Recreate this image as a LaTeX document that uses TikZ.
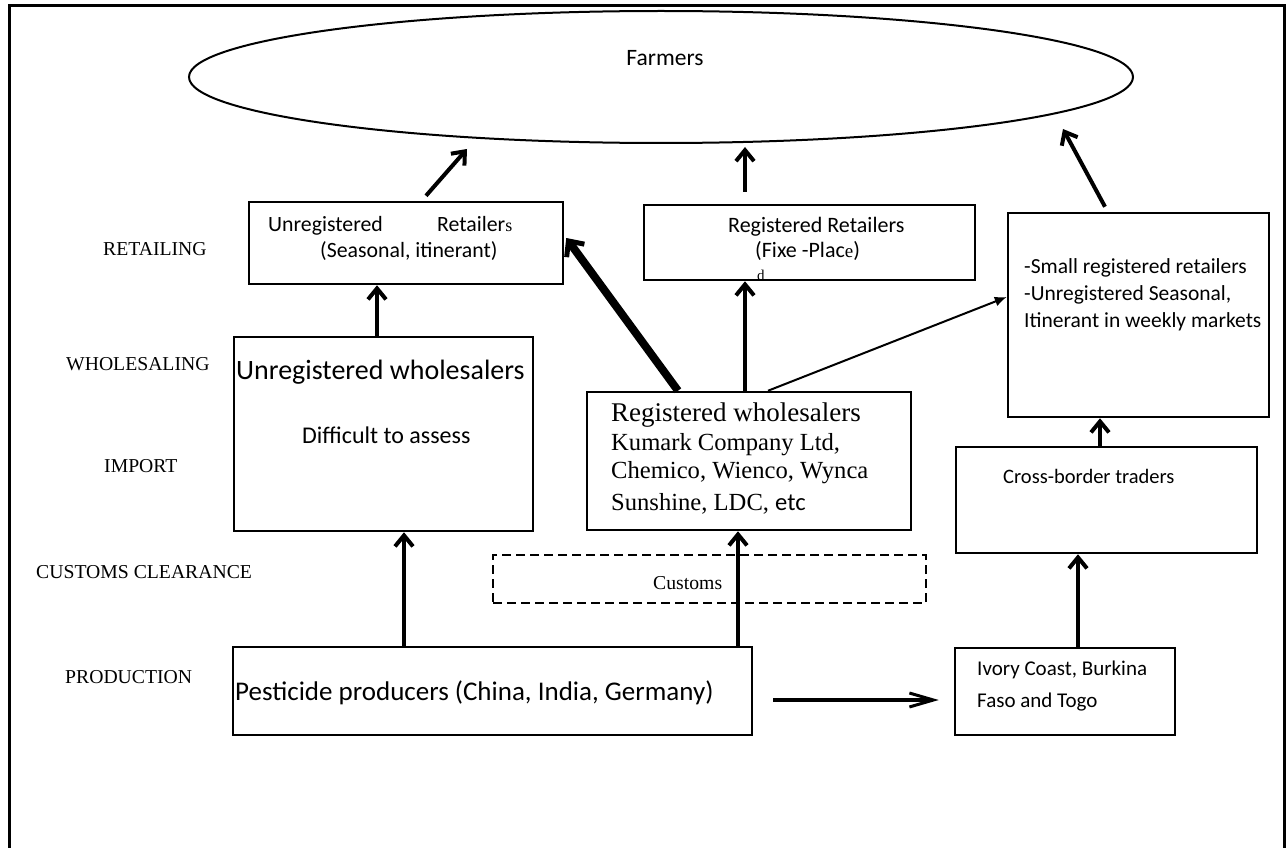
\documentclass[tikz,border=0pt]{standalone}
\usepackage{fontspec}
\setmainfont{Liberation Serif}
\newfontfamily\calfont{Carlito}
\usetikzlibrary{arrows.meta,shapes.geometric}
\begin{document}
\begin{tikzpicture}[x=1pt,y=-1pt,
  box/.style={draw,line width=2.5pt,inner sep=0pt,rectangle},
  txt/.style={inner sep=0pt,anchor=base west},
  lbl/.style={inner sep=0pt,anchor=base west,font=\fontsize{19.7}{22}\selectfont},
  arr/.style={line width=4pt,-{Straight Barb[length=11pt,width=18pt,line width=4pt]}},
  fatarr/.style={line width=8pt,-{Straight Barb[length=12pt,width=22pt,line width=5pt]}},
  thinarr/.style={line width=2pt,-{Latex[length=12pt,width=10pt]}}]
\useasboundingbox (0,0) rectangle (1286,848);
% frame
\draw[line width=3pt] (9,848) -- (9,6) -- (1284,6) -- (1284,848);
% farmers
\node[draw,ellipse,line width=2pt,minimum width=944,minimum height=132,inner sep=0pt] (farmers) at (661,77) {};
\node[inner sep=0pt,anchor=base,font=\calfont\fontsize{23.5}{26}\selectfont] (farmerst) at (665,66) {Farmers};
% boxes
\node[box,minimum width=314,minimum height=82] (ur) at (406,243) {};
\node[box,minimum width=331,minimum height=75] (rr) at (809.5,242.5) {};
\node[box,minimum width=261,minimum height=204] (sr) at (1138.5,315) {};
\node[box,minimum width=299,minimum height=194] (uw) at (383.5,434) {};
\node[box,minimum width=324,minimum height=138] (rw) at (749,461) {};
\node[box,dashed,dash pattern=on 9pt off 5pt,minimum width=433,minimum height=48] (cu) at (709.5,579) {};
\node[box,minimum width=301,minimum height=106] (cb) at (1106.5,500) {};
\node[box,minimum width=519,minimum height=88] (pp) at (492.5,691) {};
\node[box,minimum width=220,minimum height=87] (ic) at (1065,691.5) {};
% left labels
\node[lbl] (l1) at (103,255) {RETAILING};
\node[lbl] (l2) at (66,370) {WHOLESALING};
\node[lbl] (l3) at (104,472) {IMPORT};
\node[lbl] (l4) at (36,578) {CUSTOMS CLEARANCE};
\node[lbl] (l5) at (65,683) {PRODUCTION};
% texts
\node[txt,font=\calfont\fontsize{21.8}{24}\selectfont] (t1) at (268,231) {Unregistered};
\node[txt] (t2) at (437,231) {{\calfont\fontsize{21.8}{24}\selectfont Retailer}{\fontsize{18}{20}\selectfont s}};
\node[txt,font=\calfont\fontsize{21.8}{24}\selectfont] (t3) at (320,257) {(Seasonal, itinerant)};
\node[txt,font=\calfont\fontsize{22}{24}\selectfont] (t4) at (728,233) {Registered Retailers};
\node[txt] (t5) at (755,258) {{\calfont\fontsize{22}{24}\selectfont (Fixe -Plac}{\fontsize{19}{20}\selectfont e}{\calfont\fontsize{22}{24}\selectfont )}};
\node[txt,font=\fontsize{15}{16}\selectfont] (t6) at (757,280) {d};
\node[txt,font=\calfont\fontsize{21.5}{24}\selectfont] (t7) at (1024,273) {-Small registered retailers};
\node[txt,font=\calfont\fontsize{21.5}{24}\selectfont] (t8) at (1024,300) {-Unregistered Seasonal,};
\node[txt,font=\calfont\fontsize{21.5}{24}\selectfont] (t9) at (1024,327) {Itinerant in weekly markets};
\node[txt,font=\calfont\fontsize{28}{30}\selectfont] (t10) at (236,379) {Unregistered wholesalers};
\node[txt,font=\calfont\fontsize{24}{26}\selectfont] (t11) at (302,443) {Difficult to assess};
\node[txt,font=\fontsize{27}{30}\selectfont] (t12) at (611,421) {Registered wholesalers};
\node[txt,font=\fontsize{24.6}{26}\selectfont] (t13) at (611,450) {Kumark Company Ltd,};
\node[txt,font=\fontsize{24.6}{26}\selectfont] (t14) at (611,478) {Chemico, Wienco, Wynca};
\node[txt,font=\fontsize{24.6}{26}\selectfont] (t15) at (611,510) {Sunshine, LDC, {\calfont etc}};
\node[txt,font=\fontsize{19.7}{22}\selectfont] (t16) at (653,589) {Customs};
\node[txt,font=\calfont\fontsize{20.5}{23}\selectfont] (t17) at (1003,483) {Cross-border traders};
\node[txt,font=\calfont\fontsize{27}{30}\selectfont] (t18) at (235,700) {Pesticide producers (China, India, Germany)};
\node[txt,font=\calfont\fontsize{21}{23}\selectfont] (t19) at (977,675) {Ivory Coast, Burkina};
\node[txt,font=\calfont\fontsize{21}{23}\selectfont] (t20) at (977,707) {Faso and Togo};
% connectors
\draw[arr] ([xshift=20pt,yshift=5pt]ur.north) -- ([xshift=-194pt,yshift=-5pt]farmers.south);
\draw[arr] ([xshift=-64.5pt,yshift=12pt]rr.north) -- ([xshift=84pt,yshift=-3pt]farmers.south);
\draw[arr] ([xshift=-33.5pt,yshift=5pt]sr.north) -- ([xshift=402pt,yshift=15pt]farmers.south);
\draw[arr] ([xshift=-6.5pt]uw.north) -- ([xshift=-29pt]ur.south);
\draw[fatarr] ([xshift=-71pt]rw.north) -- ([xshift=2pt,yshift=5pt]ur.east);
\draw[arr] ([xshift=-4pt]rw.north) -- ([xshift=-64.5pt]rr.south);
\draw[thinarr] ([xshift=19pt]rw.north) -- ([yshift=18pt]sr.west);
\draw[arr] ([xshift=-6.5pt]cb.north) -- ([xshift=-38.5pt]sr.south);
\draw[arr] ([xshift=-88.5pt]pp.north) -- ([xshift=20.5pt]uw.south);
\draw[arr] ([xshift=245.5pt]pp.north) -- ([xshift=-11pt]rw.south);
\draw[arr] ([xshift=13pt]ic.north) -- ([xshift=-28.5pt]cb.south);
\draw[line width=4pt,-{Straight Barb[length=24pt,width=14pt,line width=3pt]}] ([xshift=20pt,yshift=-9pt]pp.east) -- ([xshift=-15pt,yshift=-8.5pt]ic.west);
\end{tikzpicture}
\end{document}
